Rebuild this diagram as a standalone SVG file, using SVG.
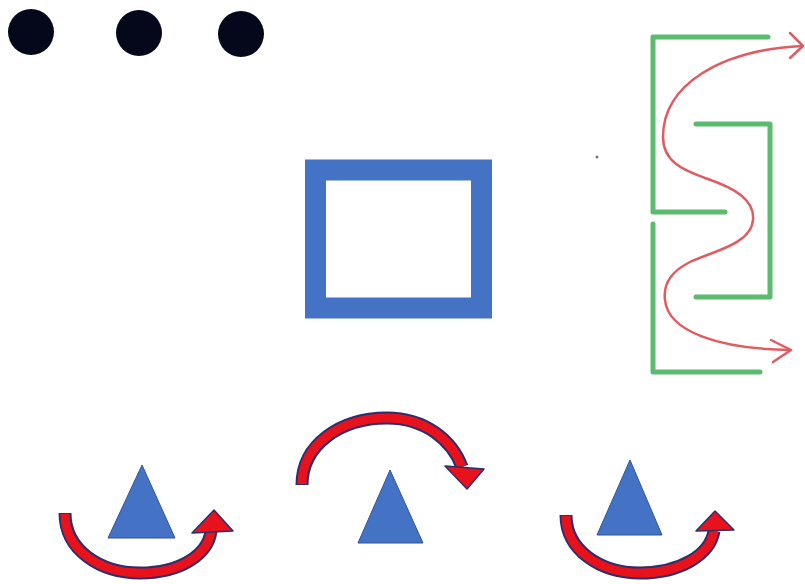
<svg xmlns="http://www.w3.org/2000/svg" width="805" height="584" viewBox="0 0 805 584">
<style>
.dot{fill:#05081a}
.tri{fill:#4472c4;stroke:#2f5597;stroke-width:1}
.arcO{fill:none;stroke:#2b2f6e;stroke-width:13}
.arcI{fill:none;stroke:#e8121c;stroke-width:9}
.head{fill:#e8121c;stroke:#2b2f6e;stroke-width:1.5;stroke-linejoin:round}
.maze{fill:none;stroke:#5dbb6f;stroke-width:5;stroke-linecap:round;stroke-linejoin:round}
.flow{fill:none;stroke:#de5c62;stroke-width:2.5;stroke-linecap:round;stroke-linejoin:round}
</style>
<rect width="805" height="584" fill="#ffffff"/>
<g id="dots">
<circle class="dot" cx="31" cy="32" r="23"/>
<circle class="dot" cx="139" cy="33" r="23"/>
<circle class="dot" cx="241" cy="34" r="23"/>
</g>
<g id="square">
<rect x="315.5" y="170" width="166" height="138" fill="none" stroke="#4472c4" stroke-width="21"/>
</g>
<g id="maze">
<path class="maze" d="M768,37 H653 V212 H725"/>
<path class="maze" d="M653,224 V372 H760"/>
<path class="maze" d="M696,124 H770 V297 H696"/>
<circle cx="597" cy="157" r="1.5" fill="#6a7a78"/>
</g>
<g id="connectors">
<path class="flow" d="M802,46 C720,50 663,85 663,137 C663,165 690,172 705,178 C735,188 755,200 753,220 C751,245 710,252 690,262 C670,272 663,285 665,300 C668,332 720,349 790,350"/>
<path class="flow" d="M790,33 L803,46 L790,58"/>
<path class="flow" d="M771,340 L791,350 L773,362"/>
<path class="arcO" d="M65,513 C65,550 100,573 140,573 C180,573 208,555 211,531"/>
<path class="arcI" d="M65,514 C65,550 100,573 140,573 C180,573 208,555 211,531"/>
<polygon class="head" points="214,510 192,533 233,531"/>
<path class="arcO" d="M302,485 C302,445 340,418 387,418 C425,418 452,440 462,467"/>
<path class="arcI" d="M302,484 C302,445 340,418 387,418 C425,418 452,440 462,467"/>
<polygon class="head" points="445,466 484,469 467,489"/>
<path class="arcO" d="M566,515 C566,550 600,573 640,573 C680,573 710,555 714,531"/>
<path class="arcI" d="M566,516 C566,550 600,573 640,573 C680,573 710,555 714,531"/>
<polygon class="head" points="715,511 696,531 734,530"/>
</g>
<g id="triangle1"><polygon class="tri" points="142,465 108,538 175,538"/></g>
<g id="triangle2"><polygon class="tri" points="390,470 358,543 423,543"/></g>
<g id="triangle3"><polygon class="tri" points="630,460 597,535 662,535"/></g>
</svg>
